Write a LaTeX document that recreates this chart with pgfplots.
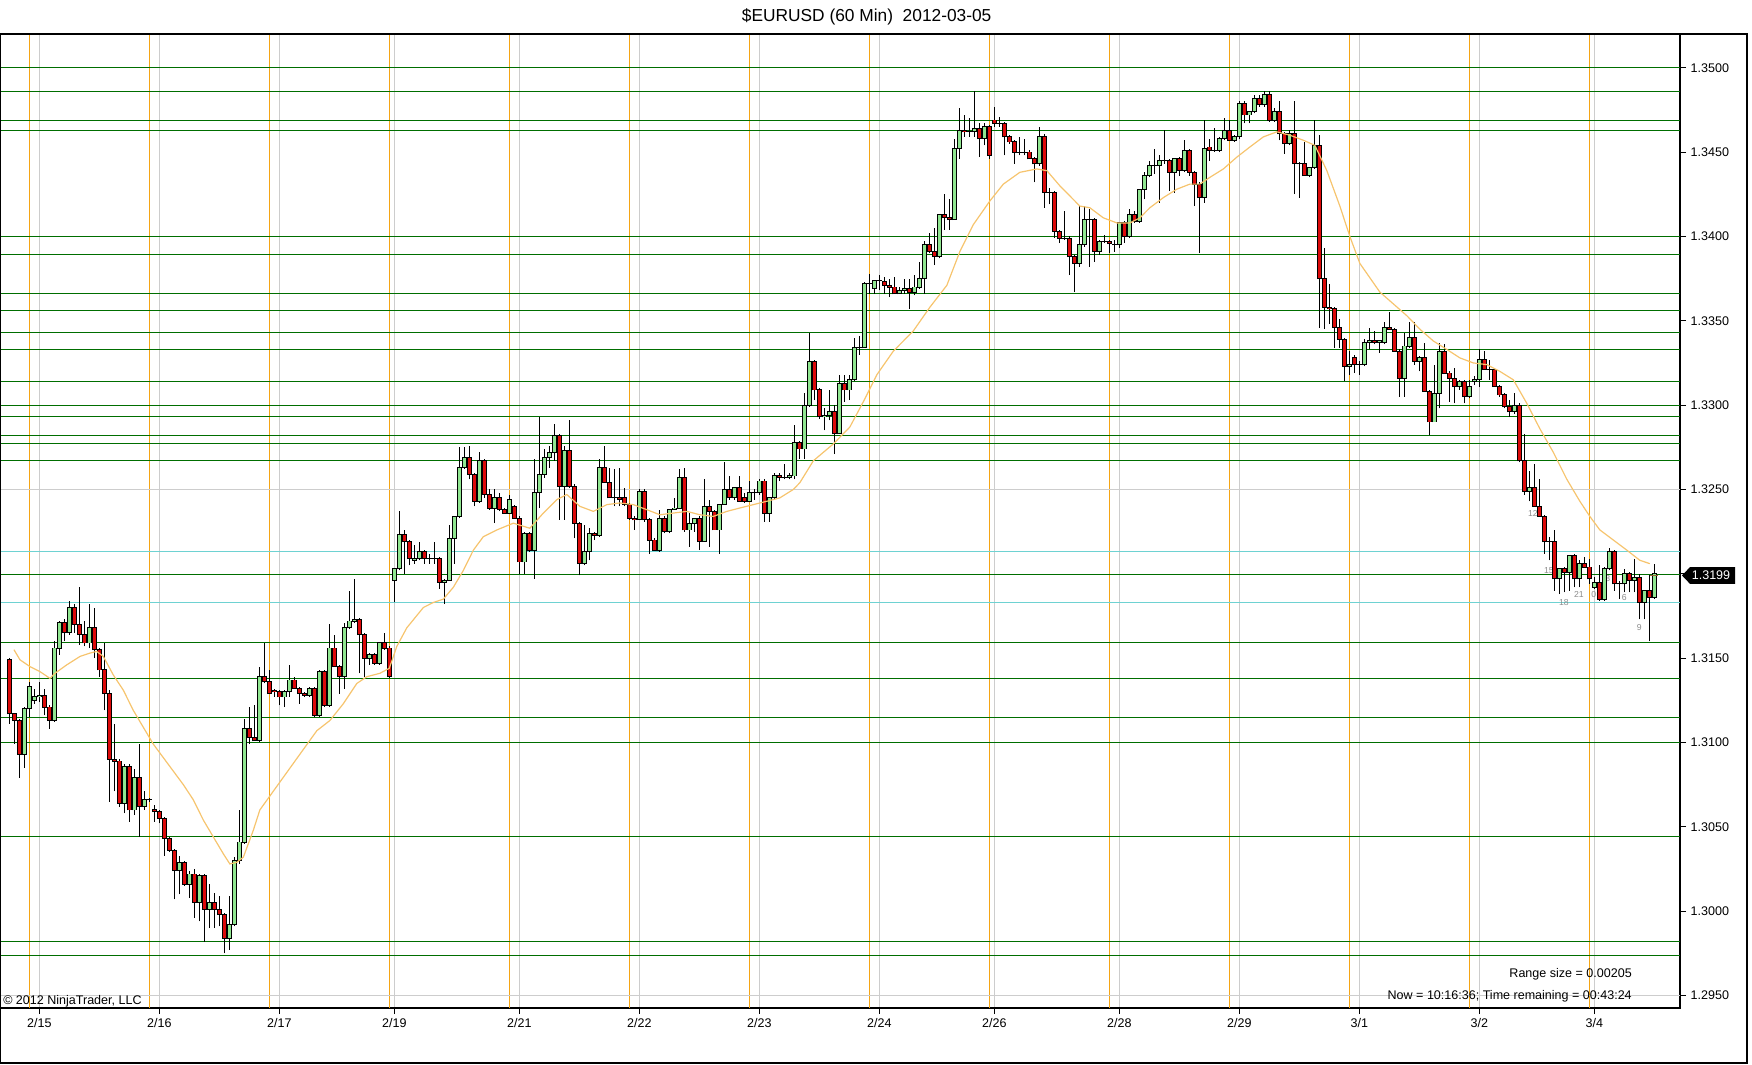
\documentclass[border=0pt]{standalone}
\usepackage{fontspec}
\setmainfont{Liberation Sans}
\usepackage{pgfplots}
\usepackage{pgfplotstable}
\pgfplotsset{compat=1.18}

\definecolor{upfill}{RGB}{144,230,144}
\definecolor{downfill}{RGB}{220,10,10}
\definecolor{lvl}{RGB}{0,110,0}
\definecolor{sess}{RGB}{245,165,20}
\definecolor{gridgray}{RGB}{205,205,205}
\definecolor{band}{RGB}{110,210,210}
\definecolor{ma}{RGB}{246,196,110}
\definecolor{barnum}{RGB}{140,140,140}

% hourly bars: index, open, high, low, close
\pgfplotstableread{
i o h l c
0 1.3149 1.3150 1.3111 1.3117
1 1.3117 1.3117 1.3099 1.3113
2 1.3113 1.3114 1.3079 1.3093
3 1.3093 1.3121 1.3085 1.3120
4 1.3120 1.3136 1.3115 1.3133
5 1.3125 1.3132 1.3123 1.3127
6 1.3127 1.3136 1.3124 1.3128
7 1.3128 1.3132 1.3116 1.3121
8 1.3121 1.3122 1.3108 1.3113
9 1.3113 1.3160 1.3112 1.3156
10 1.3156 1.3172 1.3152 1.3171
11 1.3171 1.3173 1.3160 1.3165
12 1.3165 1.3184 1.3164 1.3180
13 1.3180 1.3182 1.3165 1.3170
14 1.3170 1.3192 1.3158 1.3164
15 1.3164 1.3172 1.3157 1.3159
16 1.3159 1.3182 1.3156 1.3168
17 1.3168 1.3180 1.3150 1.3155
18 1.3155 1.3156 1.3139 1.3143
19 1.3143 1.3159 1.3119 1.3129
20 1.3129 1.3131 1.3065 1.3090
21 1.3090 1.3111 1.3071 1.3089
22 1.3089 1.3090 1.3062 1.3064
23 1.3064 1.3087 1.3058 1.3086
24 1.3086 1.3087 1.3053 1.3060
25 1.3060 1.3084 1.3057 1.3079
26 1.3079 1.3099 1.3044 1.3062
27 1.3062 1.3071 1.3060 1.3066
28 1.3066 1.3067 1.3065 1.3066
29 1.3060 1.3063 1.3053 1.3059
30 1.3059 1.3060 1.3052 1.3055
31 1.3055 1.3056 1.3033 1.3043
32 1.3043 1.3044 1.3035 1.3036
33 1.3036 1.3037 1.3007 1.3024
34 1.3024 1.3033 1.3010 1.3029
35 1.3029 1.3030 1.3015 1.3016
36 1.3016 1.3024 1.3008 1.3022
37 1.3022 1.3025 1.2996 1.3005
38 1.3005 1.3022 1.2994 1.3021
39 1.3021 1.3022 1.2982 1.3001
40 1.3001 1.3016 1.2990 1.3005
41 1.3005 1.3011 1.2990 1.3001
42 1.3001 1.3009 1.2991 1.2998
43 1.2998 1.2999 1.2975 1.2984
44 1.2984 1.3009 1.2977 1.2992
45 1.2992 1.3032 1.2991 1.3030
46 1.3030 1.3060 1.3028 1.3041
47 1.3041 1.3114 1.3040 1.3108
48 1.3108 1.3121 1.3099 1.3103
49 1.3103 1.3122 1.3101 1.3101
50 1.3101 1.3145 1.3100 1.3139
51 1.3139 1.3159 1.3135 1.3136
52 1.3136 1.3143 1.3129 1.3129
53 1.3131 1.3132 1.3127 1.3130
54 1.3130 1.3131 1.3122 1.3127
55 1.3127 1.3131 1.3121 1.3130
56 1.3130 1.3146 1.3127 1.3137
57 1.3137 1.3139 1.3132 1.3132
58 1.3132 1.3133 1.3123 1.3129
59 1.3129 1.3130 1.3127 1.3128
60 1.3128 1.3133 1.3127 1.3132
61 1.3132 1.3133 1.3115 1.3116
62 1.3116 1.3143 1.3115 1.3142
63 1.3142 1.3143 1.3121 1.3122
64 1.3122 1.3170 1.3121 1.3156
65 1.3156 1.3164 1.3145 1.3145
66 1.3145 1.3146 1.3129 1.3139
67 1.3139 1.3171 1.3132 1.3168
68 1.3168 1.3190 1.3167 1.3172
69 1.3172 1.3197 1.3171 1.3173
70 1.3173 1.3174 1.3141 1.3164
71 1.3164 1.3165 1.3139 1.3150
72 1.3150 1.3153 1.3146 1.3152
73 1.3152 1.3153 1.3146 1.3147
74 1.3147 1.3159 1.3146 1.3159
75 1.3159 1.3165 1.3155 1.3156
76 1.3156 1.3157 1.3138 1.3139
77 1.3196 1.3203 1.3183 1.3203
78 1.3203 1.3237 1.3202 1.3223
79 1.3223 1.3226 1.3200 1.3219
80 1.3219 1.3220 1.3205 1.3209
81 1.3208 1.3217 1.3206 1.3209
82 1.3209 1.3219 1.3208 1.3213
83 1.3213 1.3214 1.3206 1.3209
84 1.3209 1.3212 1.3206 1.3209
85 1.3209 1.3219 1.3206 1.3209
86 1.3209 1.3210 1.3191 1.3195
87 1.3195 1.3197 1.3182 1.3196
88 1.3196 1.3229 1.3196 1.3221
89 1.3221 1.3234 1.3206 1.3234
90 1.3234 1.3275 1.3233 1.3263
91 1.3263 1.3275 1.3262 1.3269
92 1.3269 1.3276 1.3256 1.3259
93 1.3259 1.3260 1.3240 1.3243
94 1.3243 1.3272 1.3242 1.3267
95 1.3267 1.3268 1.3245 1.3247
96 1.3247 1.3250 1.3238 1.3239
97 1.3239 1.3250 1.3230 1.3245
98 1.3245 1.3248 1.3237 1.3238
99 1.3238 1.3239 1.3236 1.3236
100 1.3236 1.3247 1.3236 1.3244
101 1.3240 1.3241 1.3233 1.3233
102 1.3233 1.3234 1.3200 1.3207
103 1.3207 1.3225 1.3200 1.3224
104 1.3224 1.3225 1.3213 1.3214
105 1.3214 1.3268 1.3197 1.3248
106 1.3248 1.3293 1.3239 1.3259
107 1.3259 1.3274 1.3257 1.3269
108 1.3269 1.3276 1.3263 1.3272
109 1.3272 1.3289 1.3267 1.3282
110 1.3282 1.3283 1.3232 1.3252
111 1.3252 1.3276 1.3232 1.3273
112 1.3273 1.3291 1.3251 1.3252
113 1.3252 1.3253 1.3221 1.3230
114 1.3230 1.3231 1.3199 1.3206
115 1.3206 1.3229 1.3205 1.3213
116 1.3213 1.3227 1.3208 1.3224
117 1.3224 1.3225 1.3220 1.3223
118 1.3223 1.3268 1.3222 1.3263
119 1.3263 1.3276 1.3254 1.3254
120 1.3254 1.3263 1.3245 1.3245
121 1.3245 1.3262 1.3240 1.3245
122 1.3245 1.3263 1.3240 1.3244
123 1.3245 1.3251 1.3240 1.3241
124 1.3241 1.3242 1.3232 1.3233
125 1.3233 1.3234 1.3226 1.3232
126 1.3232 1.3250 1.3232 1.3249
127 1.3249 1.3250 1.3231 1.3232
128 1.3232 1.3233 1.3212 1.3220
129 1.3220 1.3221 1.3214 1.3214
130 1.3214 1.3238 1.3213 1.3233
131 1.3233 1.3234 1.3224 1.3225
132 1.3225 1.3238 1.3224 1.3238
133 1.3238 1.3245 1.3238 1.3239
134 1.3239 1.3262 1.3239 1.3257
135 1.3257 1.3263 1.3225 1.3226
136 1.3226 1.3236 1.3216 1.3230
137 1.3230 1.3233 1.3225 1.3233
138 1.3233 1.3234 1.3214 1.3219
139 1.3219 1.3256 1.3219 1.3240
140 1.3240 1.3244 1.3216 1.3237
141 1.3237 1.3238 1.3226 1.3226
142 1.3226 1.3241 1.3212 1.3241
143 1.3241 1.3266 1.3241 1.3250
144 1.3250 1.3258 1.3244 1.3245
145 1.3245 1.3251 1.3244 1.3251
146 1.3251 1.3258 1.3243 1.3243
147 1.3245 1.3248 1.3242 1.3243
148 1.3243 1.3255 1.3243 1.3248
149 1.3248 1.3250 1.3244 1.3248
150 1.3248 1.3256 1.3247 1.3255
151 1.3255 1.3256 1.3231 1.3236
152 1.3236 1.3245 1.3231 1.3245
153 1.3245 1.3260 1.3244 1.3258
154 1.3258 1.3260 1.3255 1.3257
155 1.3257 1.3265 1.3256 1.3257
156 1.3257 1.3260 1.3256 1.3258
157 1.3258 1.3288 1.3256 1.3278
158 1.3278 1.3279 1.3268 1.3274
159 1.3274 1.3307 1.3268 1.3300
160 1.3300 1.3343 1.3299 1.3326
161 1.3326 1.3327 1.3303 1.3309
162 1.3309 1.3310 1.3292 1.3293
163 1.3293 1.3298 1.3285 1.3294
164 1.3294 1.3309 1.3291 1.3296
165 1.3296 1.3300 1.3271 1.3283
166 1.3283 1.3318 1.3283 1.3313
167 1.3313 1.3318 1.3302 1.3309
168 1.3309 1.3318 1.3303 1.3315
169 1.3315 1.3340 1.3314 1.3334
170 1.3334 1.3341 1.3330 1.3334
171 1.3334 1.3373 1.3334 1.3372
172 1.3372 1.3378 1.3366 1.3372
173 1.3369 1.3374 1.3366 1.3374
174 1.3374 1.3377 1.3368 1.3374
175 1.3373 1.3376 1.3366 1.3371
176 1.3371 1.3375 1.3364 1.3370
177 1.3370 1.3376 1.3366 1.3366
178 1.3366 1.3370 1.3366 1.3368
179 1.3368 1.3375 1.3366 1.3369
180 1.3369 1.3375 1.3357 1.3367
181 1.3367 1.3377 1.3365 1.3370
182 1.3370 1.3385 1.3369 1.3375
183 1.3375 1.3397 1.3366 1.3395
184 1.3395 1.3402 1.3390 1.3391
185 1.3391 1.3405 1.3383 1.3388
186 1.3388 1.3413 1.3387 1.3413
187 1.3413 1.3425 1.3404 1.3411
188 1.3411 1.3422 1.3404 1.3410
189 1.3410 1.3458 1.3410 1.3452
190 1.3452 1.3476 1.3446 1.3463
191 1.3463 1.3472 1.3459 1.3462
192 1.3462 1.3470 1.3459 1.3462
193 1.3462 1.3486 1.3459 1.3464
194 1.3464 1.3467 1.3447 1.3458
195 1.3458 1.3467 1.3454 1.3465
196 1.3465 1.3466 1.3446 1.3448
197 1.3469 1.3477 1.3465 1.3467
198 1.3467 1.3471 1.3465 1.3467
199 1.3467 1.3468 1.3448 1.3459
200 1.3459 1.3460 1.3455 1.3456
201 1.3456 1.3457 1.3443 1.3450
202 1.3450 1.3459 1.3448 1.3450
203 1.3450 1.3458 1.3448 1.3450
204 1.3450 1.3451 1.3446 1.3446
205 1.3446 1.3447 1.3432 1.3443
206 1.3443 1.3465 1.3442 1.3459
207 1.3459 1.3461 1.3417 1.3426
208 1.3426 1.3429 1.3419 1.3426
209 1.3426 1.3427 1.3399 1.3403
210 1.3403 1.3404 1.3396 1.3399
211 1.3399 1.3415 1.3398 1.3399
212 1.3399 1.3400 1.3377 1.3388
213 1.3388 1.3389 1.3367 1.3384
214 1.3384 1.3418 1.3382 1.3395
215 1.3395 1.3418 1.3394 1.3410
216 1.3410 1.3416 1.3382 1.3410
217 1.3410 1.3411 1.3385 1.3391
218 1.3391 1.3398 1.3389 1.3397
219 1.3397 1.3401 1.3396 1.3397
220 1.3397 1.3398 1.3390 1.3396
221 1.3395 1.3398 1.3391 1.3395
222 1.3395 1.3408 1.3393 1.3408
223 1.3408 1.3409 1.3396 1.3400
224 1.3400 1.3416 1.3399 1.3413
225 1.3413 1.3415 1.3408 1.3409
226 1.3409 1.3428 1.3408 1.3428
227 1.3428 1.3438 1.3422 1.3436
228 1.3436 1.3445 1.3435 1.3442
229 1.3442 1.3452 1.3437 1.3442
230 1.3442 1.3448 1.3420 1.3445
231 1.3445 1.3463 1.3443 1.3445
232 1.3445 1.3446 1.3427 1.3438
233 1.3438 1.3446 1.3426 1.3446
234 1.3446 1.3447 1.3436 1.3439
235 1.3439 1.3457 1.3438 1.3451
236 1.3451 1.3452 1.3436 1.3438
237 1.3438 1.3439 1.3418 1.3431
238 1.3431 1.3432 1.3390 1.3423
239 1.3423 1.3469 1.3420 1.3452
240 1.3453 1.3458 1.3445 1.3451
241 1.3451 1.3464 1.3450 1.3451
242 1.3451 1.3459 1.3450 1.3458
243 1.3458 1.3470 1.3457 1.3463
244 1.3463 1.3469 1.3457 1.3457
245 1.3457 1.3460 1.3456 1.3459
246 1.3459 1.3480 1.3458 1.3479
247 1.3479 1.3480 1.3467 1.3472
248 1.3472 1.3474 1.3467 1.3474
249 1.3474 1.3484 1.3473 1.3482
250 1.3482 1.3484 1.3477 1.3478
251 1.3478 1.3486 1.3477 1.3484
252 1.3484 1.3486 1.3468 1.3469
253 1.3469 1.3476 1.3468 1.3474
254 1.3474 1.3480 1.3457 1.3461
255 1.3461 1.3462 1.3449 1.3455
256 1.3455 1.3463 1.3454 1.3461
257 1.3461 1.3480 1.3425 1.3443
258 1.3443 1.3444 1.3423 1.3443
259 1.3443 1.3456 1.3436 1.3436
260 1.3436 1.3440 1.3435 1.3441
261 1.3441 1.3469 1.3440 1.3454
262 1.3454 1.3460 1.3346 1.3375
263 1.3375 1.3393 1.3345 1.3358
264 1.3358 1.3372 1.3348 1.3357
265 1.3357 1.3358 1.3334 1.3346
266 1.3346 1.3351 1.3334 1.3339
267 1.3339 1.3340 1.3314 1.3323
268 1.3323 1.3332 1.3318 1.3324
269 1.3328 1.3330 1.3319 1.3324
270 1.3324 1.3326 1.3318 1.3324
271 1.3324 1.3339 1.3323 1.3337
272 1.3337 1.3346 1.3333 1.3338
273 1.3338 1.3344 1.3336 1.3337
274 1.3337 1.3338 1.3331 1.3338
275 1.3337 1.3349 1.3336 1.3346
276 1.3346 1.3355 1.3345 1.3345
277 1.3345 1.3346 1.3332 1.3332
278 1.3332 1.3333 1.3305 1.3316
279 1.3316 1.3343 1.3305 1.3335
280 1.3335 1.3349 1.3334 1.3340
281 1.3340 1.3349 1.3324 1.3326
282 1.3326 1.3329 1.3320 1.3328
283 1.3328 1.3337 1.3308 1.3308
284 1.3308 1.3309 1.3282 1.3290
285 1.3290 1.3324 1.3290 1.3307
286 1.3307 1.3337 1.3298 1.3332
287 1.3332 1.3336 1.3319 1.3319
288 1.3319 1.3320 1.3302 1.3316
289 1.3316 1.3322 1.3301 1.3311
290 1.3311 1.3315 1.3309 1.3314
291 1.3314 1.3315 1.3301 1.3305
292 1.3305 1.3315 1.3304 1.3311
293 1.3314 1.3317 1.3312 1.3315
294 1.3315 1.3333 1.3311 1.3327
295 1.3327 1.3332 1.3321 1.3321
296 1.3321 1.3327 1.3315 1.3321
297 1.3321 1.3322 1.3311 1.3311
298 1.3311 1.3312 1.3305 1.3306
299 1.3306 1.3307 1.3298 1.3299
300 1.3299 1.3303 1.3293 1.3296
301 1.3296 1.3307 1.3295 1.3300
302 1.3300 1.3301 1.3266 1.3267
303 1.3267 1.3283 1.3247 1.3249
304 1.3249 1.3261 1.3243 1.3251
305 1.3251 1.3265 1.3240 1.3240
306 1.3240 1.3256 1.3234 1.3234
307 1.3234 1.3235 1.3212 1.3219
308 1.3219 1.3222 1.3208 1.3219
309 1.3219 1.3226 1.3190 1.3197
310 1.3197 1.3203 1.3188 1.3203
311 1.3203 1.3204 1.3189 1.3201
312 1.3201 1.3211 1.3190 1.3211
313 1.3211 1.3212 1.3192 1.3197
314 1.3197 1.3208 1.3192 1.3206
315 1.3206 1.3210 1.3204 1.3204
316 1.3204 1.3209 1.3194 1.3197
317 1.3192 1.3198 1.3191 1.3195
318 1.3195 1.3205 1.3184 1.3185
319 1.3185 1.3204 1.3184 1.3203
320 1.3203 1.3215 1.3202 1.3213
321 1.3213 1.3214 1.3190 1.3194
322 1.3194 1.3196 1.3185 1.3194
323 1.3194 1.3203 1.3189 1.3200
324 1.3200 1.3201 1.3189 1.3196
325 1.3196 1.3209 1.3189 1.3198
326 1.3198 1.3200 1.3173 1.3183
327 1.3183 1.3190 1.3173 1.3190
328 1.3190 1.3199 1.3160 1.3186
329 1.3186 1.3206 1.3185 1.3200
}\candles

\begin{document}
\begin{tikzpicture}
\path[use as bounding box] (0pt,-42pt) rectangle (1314pt,756pt);
\begin{axis}[
  at={(0pt,0pt)}, anchor=south west,
  scale only axis, width=1260pt, height=730.5pt,
  xmin=-1.867, xmax=334.133,
  ymin=1.29426, ymax=1.35200,
  axis line style={line width=1.1pt},
  tick align=outside,
  major tick length=4.5pt,
  tick style={black, line width=0.75pt},
  xtick pos=bottom,
  ytick pos=right, yticklabel pos=right,
  xtick={6,30,54,77,102,126,150,174,197,222,246,270,294,317},
  xticklabels={2/15,2/16,2/17,2/19,2/21,2/22,2/23,2/24,2/26,2/28,2/29,3/1,3/2,3/4},
  ytick={1.295,1.300,1.305,1.310,1.315,1.320,1.325,1.330,1.335,1.340,1.345,1.350},
  yticklabels={1.2950,1.3000,1.3050,1.3100,1.3150,,1.3250,1.3300,1.3350,1.3400,1.3450,1.3500},
  scaled y ticks=false,
  tick label style={font=\fontsize{9.4pt}{11pt}\selectfont},
  xmajorgrids=true, ymajorgrids=false,
  major grid style={gridgray, line width=0.75pt},
  extra x ticks={4,28,52,76,100,124,148,172,196,220,244,268,292,316},
  extra x tick labels={},
  extra x tick style={grid=major, major tick length=0pt, major grid style={sess, line width=0.9pt}},
  extra y ticks={1.3500,1.3486,1.3469,1.3463,1.3400,1.3389,1.3366,1.3356,1.3343,1.3333,1.3314,1.3300,1.3293,1.3282,1.3277,1.3267,1.31995,1.3159,1.3138,1.3115,1.3100,1.3044,1.2982,1.2974},
  extra y tick labels={},
  extra y tick style={ymajorgrids=true, major tick length=0pt, major grid style={lvl, line width=0.75pt}},
]
% light gray reference lines
\addplot[gridgray, line width=0.75pt, forget plot] coordinates {(-1.867,1.3250) (334.133,1.3250)};
\addplot[gridgray, line width=0.75pt, forget plot] coordinates {(-1.867,1.2950) (334.133,1.2950)};
% range bands
\addplot[band, line width=0.9pt, forget plot] coordinates {(-1.867,1.3213) (334.133,1.3213)};
\addplot[band, line width=0.9pt, forget plot] coordinates {(-1.867,1.3183) (334.133,1.3183)};

% bar counter labels
\begin{scope}[every node/.style={font=\fontsize{6.5pt}{7pt}\selectfont, text=barnum, inner sep=0pt}]
\node at (axis cs:304.7,1.3236) {12};
\node at (axis cs:307.9,1.3202) {15};
\node at (axis cs:310.9,1.3183) {18};
\node at (axis cs:313.9,1.3188) {21};
\node at (axis cs:316.9,1.3188) {0};
\node at (axis cs:319.7,1.3197) {3};
\node at (axis cs:323.0,1.3186) {6};
\node at (axis cs:326.0,1.3168) {9};
\end{scope}

% wicks: low to high
\addplot[black, line width=0.75pt, forget plot, -,
  quiver={u=0, v={\thisrow{h}-\thisrow{l}}}]
  table[x=i, y=l] {\candles};
% bodies: black outline, half a pixel beyond open and close
\addplot[black, line width=3.4pt, forget plot, -,
  quiver={u=0, v={abs(\thisrow{c}-\thisrow{o})+0.00006}}]
  table[x=i, y expr={min(\thisrow{o},\thisrow{c})-0.00003}] {\candles};
% bodies: fill of rising bars
\addplot[upfill, line width=2.2pt, forget plot, -,
  quiver={u=0, v={ifthenelse(\thisrow{c}>\thisrow{o}, max(\thisrow{c}-\thisrow{o}-0.00005,0), 0)}}]
  table[x=i, y expr={min(\thisrow{o},\thisrow{c})+0.000025}] {\candles};
% bodies: fill of falling bars
\addplot[downfill, line width=2.2pt, forget plot, -,
  quiver={u=0, v={ifthenelse(\thisrow{c}<\thisrow{o}, max(\thisrow{o}-\thisrow{c}-0.00005,0), 0)}}]
  table[x=i, y expr={min(\thisrow{o},\thisrow{c})+0.000025}] {\candles};

% moving average
\addplot[ma, line width=0.9pt] coordinates {
(0.93,1.3155)(2.13,1.3149)(4.13,1.3145)(6.13,1.3142)(8.13,1.3138)(9.13,1.3141)(11.47,1.3146)(14.13,1.3151)(16.13,1.3153)(17.47,1.3154)(18.8,1.3151)(20.8,1.3140)(22.8,1.3131)(24.8,1.3119)(26.8,1.3109)(28.8,1.3099)(30.8,1.3091)(32.8,1.3083)(34.8,1.3075)(36.8,1.3066)(38.8,1.3054)(40.8,1.3044)(42.8,1.3034)(44.1,1.3028)(45.5,1.3029)(46.8,1.3032)(48.8,1.3048)(50.1,1.3060)(61.5,1.3107)(64.1,1.3113)(66.8,1.3123)(69.5,1.3135)(71.5,1.3139)(74.1,1.3141)(76,1.3144)(77.5,1.3157)(79.5,1.3168)(82.8,1.3180)(84.8,1.3183)(86.8,1.3185)(88.8,1.3192)(90.8,1.3202)(92.8,1.3214)(94.8,1.3222)(97.5,1.3226)(100.8,1.3230)(104.1,1.3227)(106.8,1.3236)(109.5,1.3244)(111.5,1.3247)(114.1,1.3240)(116.8,1.3237)(119.5,1.3241)(122.1,1.3242)(124.8,1.3241)(127.5,1.3238)(130.1,1.3235)(132.8,1.3236)(135.5,1.3237)(138.1,1.3235)(140.8,1.3234)(143.5,1.3237)(146.1,1.3239)(148.8,1.3241)(151.5,1.3243)(154.1,1.3245)(156.8,1.3250)(158.1,1.3254)(160.8,1.3267)(164.8,1.3277)(168.1,1.3287)(170.8,1.3302)(173.5,1.3318)(176.8,1.3332)(180.8,1.3344)(184.1,1.3358)(187.5,1.3371)(190.1,1.3391)(192.8,1.3407)(196.1,1.3421)(198.8,1.3431)(202.1,1.3438)(205.5,1.3440)(207.5,1.3439)(210.1,1.3430)(212.1,1.3424)(214.1,1.3418)(216.1,1.3417)(218.8,1.3411)(221.5,1.3408)(224.1,1.3408)(226.1,1.3411)(228.1,1.3417)(230.8,1.3423)(233.5,1.3428)(236.1,1.3431)(238.1,1.3431)(240.1,1.3435)(242.8,1.3440)(245.5,1.3447)(248.1,1.3453)(250.8,1.3459)(253.5,1.3462)(256.1,1.3460)(258.8,1.3457)(261.1,1.3454)(263.5,1.3439)(266.1,1.3418)(268.1,1.3400)(270.1,1.3384)(274.1,1.3367)(276.8,1.3360)(279.5,1.3353)(282.1,1.3345)(284.8,1.3338)(287.5,1.3333)(290.1,1.3328)(292.8,1.3325)(295.5,1.3324)(298.1,1.3320)(300.8,1.3315)(303.5,1.3301)(306.1,1.3286)(308.8,1.3272)(311.5,1.3256)(314.1,1.3243)(316.1,1.3234)(318.1,1.3226)(320.8,1.3220)(323.5,1.3214)(326.1,1.3208)(328.1,1.3206)
};
% last price tick
\addplot[brown!80!black, line width=1pt, forget plot] coordinates {(328.2,1.3199) (329.8,1.3199)};

\coordinate (pm) at (axis cs:334.133,1.3199);
\end{axis}

% outer frame
\draw[line width=1.1pt] (0.4pt,-41.25pt) rectangle (1310.25pt,730.5pt);
% title
\node[font=\fontsize{13pt}{15pt}\selectfont, inner sep=0pt] at (650pt,743.25pt) {\$EURUSD (60 Min)\ \ 2012-03-05};
% footer texts
\node[font=\fontsize{9.4pt}{11pt}\selectfont, anchor=base west, inner sep=0pt] at (2.25pt,3pt) {© 2012 NinjaTrader, LLC};
\node[font=\fontsize{9.4pt}{11pt}\selectfont, anchor=base east, inner sep=0pt] at (1224pt,23.25pt) {Range size = 0.00205};
\node[font=\fontsize{9.4pt}{11pt}\selectfont, anchor=base east, inner sep=0pt] at (1224pt,6.75pt) {Now = 10:16:36; Time remaining = 00:43:24};
% current price marker
\fill[black] ([xshift=1.5pt]pm) -- ([xshift=7.5pt,yshift=6.3pt]pm) -- ([xshift=41.25pt,yshift=6.3pt]pm)
  -- ([xshift=41.25pt,yshift=-6.3pt]pm) -- ([xshift=7.5pt,yshift=-6.3pt]pm) -- cycle;
\node[text=white, font=\fontsize{9.4pt}{11pt}\selectfont, inner sep=0pt] at ([xshift=23.25pt]pm) {1.3199};
\end{tikzpicture}
\end{document}
